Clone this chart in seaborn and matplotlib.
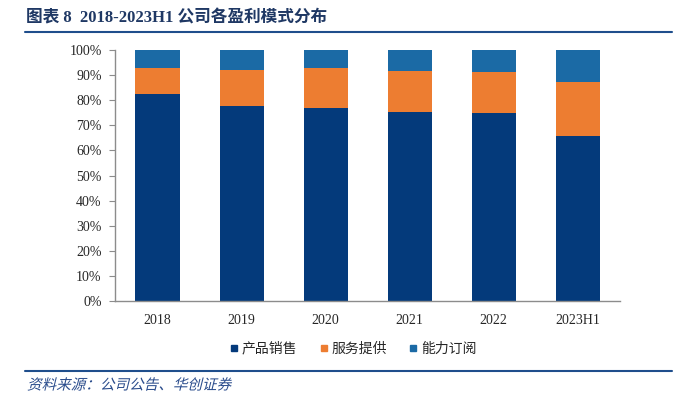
import matplotlib
matplotlib.use("Agg")
import matplotlib.pyplot as plt
from matplotlib.lines import Line2D
from matplotlib.textpath import TextPath
from matplotlib.patches import PathPatch
from matplotlib.font_manager import FontProperties
from matplotlib.transforms import Affine2D
import seaborn as sns
import pandas as pd
import numpy as np

# data (percent share per year)
years = ["2018", "2019", "2020", "2021", "2022", "2023H1"]
product_sales = [82.4, 77.8, 76.9, 75.3, 74.9, 65.7]
service = [10.4, 14.2, 15.7, 16.1, 16.4, 21.6]
subscription = [7.2, 8.0, 7.4, 8.6, 8.7, 12.7]
series_names = ["产品销售", "服务提供", "能力订阅"]
colors = ["#043A7B", "#ED7D31", "#1B6AA5"]

sns.set_style("white")
plt.rcParams['font.family'] = ['Liberation Serif', 'Noto Sans CJK SC']

df = pd.DataFrame({"year": years, "s1": product_sales, "s2": service, "s3": subscription})
# cumulative tops for overlapping stacked bars
df["top1"] = df["s1"]
df["top2"] = df["s1"] + df["s2"]
df["top3"] = df["s1"] + df["s2"] + df["s3"]

fig = plt.figure(figsize=(6.78, 3.96), dpi=100)
ax = fig.add_axes([115.5 / 678, 1 - 301.3 / 396, (619.7 - 115.5) / 678, (301.3 - 49.8) / 396])

for col, c in zip(["top3", "top2", "top1"], [colors[2], colors[1], colors[0]]):
    sns.barplot(data=df, x="year", y=col, color=c, width=0.524, saturation=1,
                edgecolor="none", linewidth=0, ax=ax)

ax.set_ylim(0, 100)
ax.set_yticks(np.arange(0, 101, 10))
ax.set_yticklabels([f"{v}%" for v in range(0, 101, 10)], fontsize=10)
ax.set_xlabel("")
ax.set_ylabel("")
ax.tick_params(axis="x", length=0, labelsize=10, pad=9)
ax.tick_params(axis="y", left=True, length=4, width=0.8, color="#8C8C8C", pad=6)
for s in ["top", "right"]:
    ax.spines[s].set_visible(False)
for s in ["left", "bottom"]:
    ax.spines[s].set_color("#8C8C8C")
    ax.spines[s].set_linewidth(1.0)

# legend
handles = [Line2D([], [], marker="s", linestyle="none", markersize=5,
                  markerfacecolor=c, markeredgecolor=c) for c in colors]
fig.legend(handles, series_names, loc="center", bbox_to_anchor=(352 / 678, 1 - 349 / 396),
           ncol=3, frameon=False, fontsize=10, handletextpad=0.05, columnspacing=1.4,
           handlelength=1.0)

# title and lines
title_color = "#1F3864"
fig.text(26 / 678, 1 - 18 / 396, "图表 8  2018-2023H1 公司各盈利模式分布", fontsize=12,
         fontweight="bold", color=title_color, va="center", ha="left")
fig.add_artist(Line2D([25 / 678, 672 / 678], [1 - 32 / 396, 1 - 32 / 396],
                      color="#1F4E8C", lw=1.5))
fig.add_artist(Line2D([25 / 678, 672 / 678], [1 - 370.7 / 396, 1 - 370.7 / 396],
                      color="#1F4E8C", lw=1.5))

# source note, slanted like the italic original
src = TextPath((0, 0), "资料来源：公司公告、华创证券", size=10.5,
               prop=FontProperties(family="Noto Sans CJK SC"))
src_tr = Affine2D().skew_deg(14, 0).scale(1 / 72).translate(0.27, 0.065) + fig.dpi_scale_trans
fig.add_artist(PathPatch(src, transform=src_tr, facecolor="#2A4C8C", edgecolor="none"))

fig.savefig("out.png", dpi=100)
